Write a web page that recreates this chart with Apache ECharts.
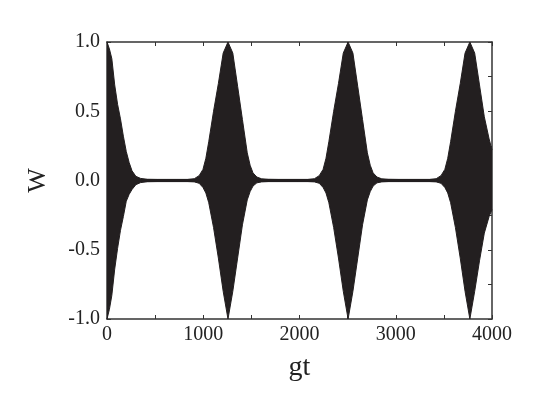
<!DOCTYPE html>
<html>
<head>
<meta charset="utf-8">
<script src="https://cdn.jsdelivr.net/npm/echarts@6/dist/echarts.min.js"></script>
<style>
  html, body { margin: 0; padding: 0; background: #fff; }
  #chart { width: 545px; height: 409px; }
</style>
</head>
<body>
<div id="chart"></div>
<script>
// envelope of W(gt)
var gt = [
    0, 25, 50, 80, 110, 140, 170, 200, 230, 260, 300, 350, 420, 520, 620, 720, 835,
    907, 957, 997, 1027, 1057, 1107, 1157, 1207, 1257, 1307, 1357, 1407, 1457, 1487, 1517, 1557, 1607, 1677,
    1780, 1880, 1980, 2085,
    2155, 2205, 2245, 2275, 2305, 2355, 2405, 2455, 2505, 2555, 2605, 2655, 2705, 2735, 2765, 2805, 2855, 2925,
    3030, 3130, 3240, 3350,
    3420, 3470, 3510, 3540, 3570, 3620, 3670, 3720, 3770, 3820, 3870, 3920, 3970, 4000
];
var upperW = [
    1.0, 0.95, 0.88, 0.69, 0.55, 0.445, 0.32, 0.21, 0.13, 0.07, 0.03, 0.015, 0.009, 0.008, 0.008, 0.008, 0.008,
    0.013, 0.035, 0.08, 0.16, 0.28, 0.50, 0.70, 0.92, 1.0, 0.92, 0.68, 0.44, 0.20, 0.11, 0.055, 0.025, 0.012, 0.009,
    0.008, 0.008, 0.008, 0.008,
    0.013, 0.035, 0.08, 0.16, 0.28, 0.50, 0.70, 0.92, 1.0, 0.92, 0.68, 0.44, 0.20, 0.11, 0.055, 0.025, 0.012, 0.009,
    0.008, 0.008, 0.008, 0.008,
    0.013, 0.035, 0.08, 0.16, 0.28, 0.50, 0.70, 0.92, 1.0, 0.92, 0.69, 0.46, 0.30, 0.22
];
var lowerW = [
    -1.0, -0.93, -0.83, -0.64, -0.49, -0.36, -0.26, -0.15, -0.10, -0.065, -0.03, -0.015, -0.009, -0.008, -0.008, -0.008, -0.008,
    -0.01, -0.02, -0.05, -0.09, -0.16, -0.34, -0.56, -0.80, -1.0, -0.80, -0.56, -0.32, -0.14, -0.08, -0.04, -0.017, -0.01, -0.008,
    -0.008, -0.008, -0.008, -0.008,
    -0.01, -0.02, -0.05, -0.09, -0.16, -0.34, -0.56, -0.80, -1.0, -0.80, -0.56, -0.32, -0.14, -0.08, -0.04, -0.017, -0.01, -0.008,
    -0.008, -0.008, -0.008, -0.008,
    -0.01, -0.02, -0.05, -0.09, -0.16, -0.34, -0.56, -0.80, -1.0, -0.80, -0.58, -0.38, -0.26, -0.21
];

(function(){

    var chart = echarts.init(document.getElementById('chart'));
    var ink = '#231f20';
    var axisColor = '#333';
    var serif = 'Liberation Serif';

    function pairs(ys) {
        return gt.map(function (x, i) { return [x, ys[i]]; });
    }

    function xAx(pos, withLabels) {
        return {
            type: 'value', position: pos, min: 0, max: 4000, interval: 1000,
            axisLine: { show: true, onZero: false, lineStyle: { color: axisColor, width: 1.5 } },
            axisTick: { show: true, inside: true, length: 4, lineStyle: { color: axisColor } },
            minorTick: { show: true, splitNumber: 2, length: 4, lineStyle: { color: axisColor } },
            splitLine: { show: false },
            axisLabel: {
                show: withLabels, fontFamily: serif, fontSize: 20, color: '#222', margin: 6,
                formatter: function (v) { return String(v); }
            },
            name: withLabels ? 'gt' : '',
            nameLocation: 'middle', nameGap: 35,
            nameTextStyle: { fontFamily: serif, fontSize: 28, color: '#222' }
        };
    }

    function yAx(pos, withLabels) {
        return {
            type: 'value', position: pos, min: -1, max: 1, interval: 0.5,
            axisLine: { show: true, onZero: false, lineStyle: { color: axisColor, width: 1.5 } },
            axisTick: { show: true, inside: true, length: 4, lineStyle: { color: axisColor } },
            minorTick: { show: true, splitNumber: 2, length: 4, lineStyle: { color: axisColor } },
            splitLine: { show: false },
            axisLabel: {
                show: withLabels, fontFamily: serif, fontSize: 20, color: '#222', margin: 7,
                formatter: function (v) { return v.toFixed(1); }
            },
            name: withLabels ? 'W' : '',
            nameLocation: 'middle', nameGap: 56, nameRotate: 90,
            nameTextStyle: { fontFamily: serif, fontSize: 26, color: '#222' }
        };
    }

    var option = {
        animation: false,
        grid: { left: 107, top: 42, right: 53, bottom: 90 },
        xAxis: [xAx('bottom', true), xAx('top', false)],
        yAxis: [yAx('left', true), yAx('right', false)],
        series: [
            {
                name: 'upper', type: 'line', data: pairs(upperW),
                showSymbol: false, symbol: 'none',
                lineStyle: { color: ink, width: 1 },
                // overlap the two fills a little so no seam shows at W = 0
                areaStyle: { color: ink, opacity: 1, origin: -0.01 }
            },
            {
                name: 'lower', type: 'line', data: pairs(lowerW),
                showSymbol: false, symbol: 'none',
                lineStyle: { color: ink, width: 1 },
                areaStyle: { color: ink, opacity: 1, origin: 0.01 }
            }
        ]
    };

    chart.setOption(option);
})();
</script>
</body>
</html>
